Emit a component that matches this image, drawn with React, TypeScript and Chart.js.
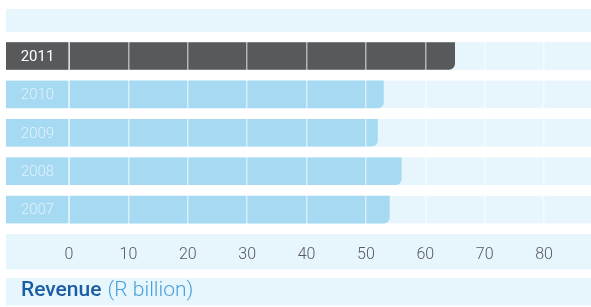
import React, { useEffect, useRef } from 'react';
import { Chart, registerables } from 'chart.js';

Chart.register(...registerables);

const categories = ['2011', '2010', '2009', '2008', '2007'];
const revenue = [65, 53, 52, 56, 54];
const barColors = ['#58595b', '#a6d9f2', '#a6d9f2', '#a6d9f2', '#a6d9f2'];
const yearLabelColors = ['#ffffff', 'rgba(255,255,255,0.65)', 'rgba(255,255,255,0.65)', 'rgba(255,255,255,0.65)', 'rgba(255,255,255,0.65)'];
const xTickValues = [0, 10, 20, 30, 40, 50, 60, 70, 80];
const titleMain = 'Revenue';
const titleUnit = ' (R billion)';

const BAND = '#e7f6fd';
const CAT_PCT = 0.72;
const PANEL_LEFT = 6;
const FONT = 'Roboto, "Liberation Sans", Arial, sans-serif';

const bandsPlugin = {
  id: 'bands',
  beforeDraw(chart: any) {
    const { ctx, chartArea, scales } = chart;
    const y = scales.y;
    const right = chart.width;
    const left = PANEL_LEFT;
    ctx.save();
    // header band
    ctx.fillStyle = BAND;
    ctx.fillRect(left, chartArea.top - 27.8, right - left, 23);
    const pitch = (chartArea.bottom - chartArea.top) / categories.length;
    const h = pitch * CAT_PCT;
    categories.forEach((c, i) => {
      const cy = y.getPixelForValue(i);
      ctx.fillStyle = BAND;
      ctx.fillRect(chartArea.left, cy - h / 2, right - chartArea.left, h);
      ctx.fillStyle = barColors[i];
      ctx.fillRect(left, cy - h / 2, chartArea.left - left, h);
      ctx.fillStyle = yearLabelColors[i];
      ctx.font = `${i === 0 ? 400 : 300} 15px ${FONT}`;
      ctx.textAlign = 'center';
      ctx.textBaseline = 'middle';
      ctx.fillText(c, (left + chartArea.left) / 2, cy + 1);
    });
    // axis panel
    ctx.fillStyle = BAND;
    ctx.fillRect(left, chartArea.bottom + 5.2, right - left, 35.5);
    // title panel
    ctx.fillRect(left, chartArea.bottom + 49.2, right - left, 27.5);
    // title text
    const ty = chartArea.bottom + 62;
    ctx.textAlign = 'left';
    ctx.textBaseline = 'middle';
    ctx.font = `500 21px ${FONT}`;
    ctx.fillStyle = '#1b5da4';
    ctx.fillText(titleMain, 21, ty);
    const w = ctx.measureText(titleMain).width;
    ctx.font = `300 21px ${FONT}`;
    ctx.fillStyle = '#4a9fd8';
    ctx.fillText(titleUnit, 22 + w, ty);
    ctx.restore();
  },
};

export default function App() {
  const ref = useRef<HTMLCanvasElement>(null);
  useEffect(() => {
    if (!ref.current) return;
    const chart = new Chart(ref.current, {
      type: 'bar',
      data: {
        labels: categories,
        datasets: [
          {
            data: revenue,
            backgroundColor: barColors,
            borderWidth: 0,
            borderRadius: { topLeft: 0, topRight: 0, bottomLeft: 0, bottomRight: 6 },
            borderSkipped: false,
            barPercentage: 1,
            categoryPercentage: CAT_PCT,
          },
        ],
      },
      options: {
        indexAxis: 'y',
        responsive: false,
        animation: false,
        devicePixelRatio: 1,
        layout: { padding: { left: 69, right: 0, top: 36.8, bottom: 0 } },
        plugins: { legend: { display: false }, tooltip: { enabled: false }, title: { display: false } },
        scales: {
          y: { display: false, offset: true },
          x: {
            type: 'linear',
            position: 'bottom',
            min: 0,
            max: 87.9,
            z: 1,
            border: { display: false },
            grid: { color: 'rgba(255,255,255,0.55)', lineWidth: 1.5, drawTicks: false, z: 1 },
            afterBuildTicks: (scale: any) => {
              scale.ticks = xTickValues.map((v) => ({ value: v }));
            },
            afterFit: (scale: any) => {
              scale.height = 307 - 36.8 - 192;
            },
            ticks: {
              color: '#58595b',
              font: { family: FONT, size: 16, weight: 300 },
              padding: 17,
              callback: (v: any) => String(v),
            },
          },
        },
      },
      plugins: [bandsPlugin],
    });
    return () => chart.destroy();
  }, []);
  return (
    <div style={{ position: 'absolute', left: 0, top: 0, width: 591, height: 307 }}>
      <canvas ref={ref} width={591} height={307} />
    </div>
  );
}
